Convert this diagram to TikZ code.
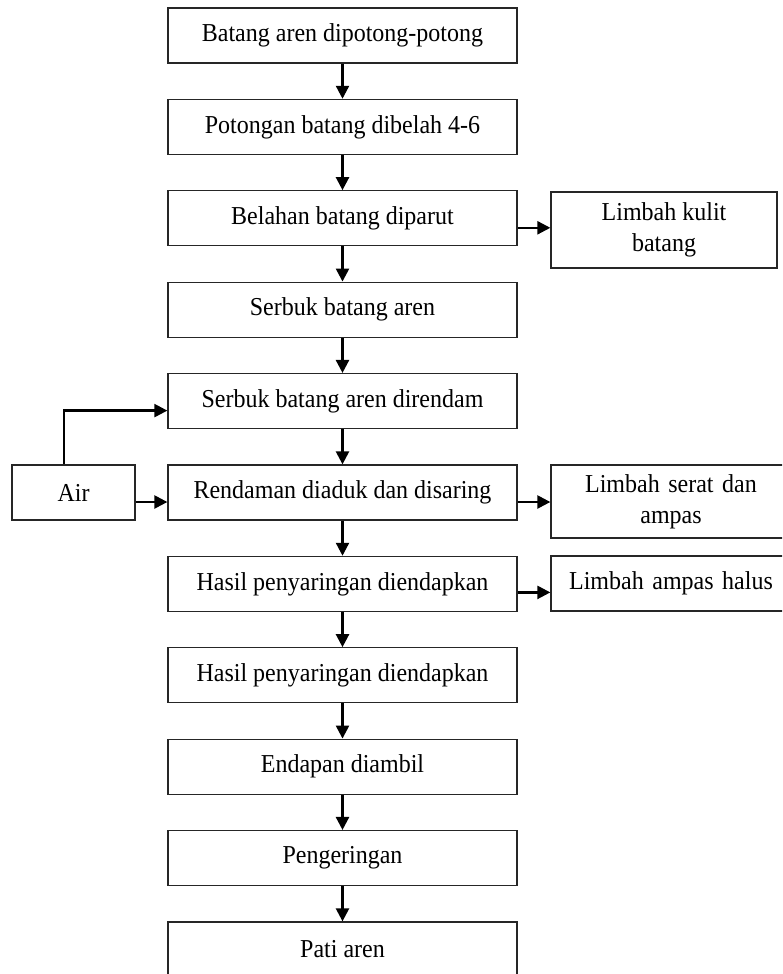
\documentclass[tikz,border=0pt]{standalone}
\usepackage{fontspec}
\setmainfont{Liberation Serif}[FakeStretch=0.93]
\usetikzlibrary{arrows.meta}
\begin{document}
\begin{tikzpicture}[x=1pt,y=-1pt,
  box/.style={draw=black!85,line width=1.3pt,rectangle,inner sep=0pt,align=center,
    font=\fontsize{25.8}{31}\selectfont},
  mainbox/.style={box,minimum width=349pt,minimum height=55pt},
  arr/.style={draw=black,line width=2.4pt,-{Triangle[length=13pt,width=13pt]}}]
\path[use as bounding box,clip] (0,0) rectangle (782,974);
% main column
\node[mainbox] (b1) at (342.5,35.5) {Batang aren dipotong-potong};
\node[mainbox] (b2) at (342.5,126.9) {Potongan batang dibelah 4-6};
\node[mainbox] (b3) at (342.5,218.3) {Belahan batang diparut};
\node[mainbox] (b4) at (342.5,309.7) {Serbuk batang aren};
\node[mainbox] (b5) at (342.5,401.1) {Serbuk batang aren direndam};
\node[mainbox] (b6) at (342.5,492.5) {Rendaman diaduk dan disaring};
\node[mainbox] (b7) at (342.5,583.9) {Hasil penyaringan diendapkan};
\node[mainbox] (b8) at (342.5,675.3) {Hasil penyaringan diendapkan};
\node[mainbox] (b9) at (342.5,766.7) {Endapan diambil};
\node[mainbox] (b10) at (342.5,858.1) {Pengeringan};
\node[mainbox] (b11) at (342.5,949.5) {Pati aren};
% side boxes
\node[box,minimum width=226pt,minimum height=76pt] (lk) at (664,230) {Limbah kulit\\batang};
\node[box,minimum width=240pt,minimum height=73pt,text width=226pt] (ls) at (671,501.5) {Limbah serat dan\\ampas};
\node[box,minimum width=240pt,minimum height=55pt,text width=226pt] (la) at (671,583.5) {Limbah ampas halus};
\node[box,minimum width=123pt,minimum height=55pt] (air) at (73.5,492.5) {Air};
% vertical arrows
\foreach \a/\b in {b1/b2,b2/b3,b3/b4,b4/b5,b5/b6,b6/b7,b7/b8,b8/b9,b9/b10,b10/b11}
  \draw[arr] (\a.south) -- (\b.north);
% side arrow start points
\coordinate (s3) at ([yshift=-9.5pt]b3.east);
\coordinate (s6) at ([yshift=-9.5pt]b6.east);
\coordinate (s7) at ([yshift=-8.5pt]b7.east);
\coordinate (sa) at ([yshift=-9.5pt]air.east);
\coordinate (t5) at ([yshift=-9.5pt]b5.west);
\coordinate (su) at ([xshift=-9.5pt]air.north);
\draw[arr] (s3) -- (lk.west |- s3);
\draw[arr] (s6) -- (ls.west |- s6);
\draw[arr] (s7) -- (la.west |- s7);
\draw[arr] (sa) -- (b6.west |- sa);
\draw[arr] (su) |- (t5);
\end{tikzpicture}
\end{document}
